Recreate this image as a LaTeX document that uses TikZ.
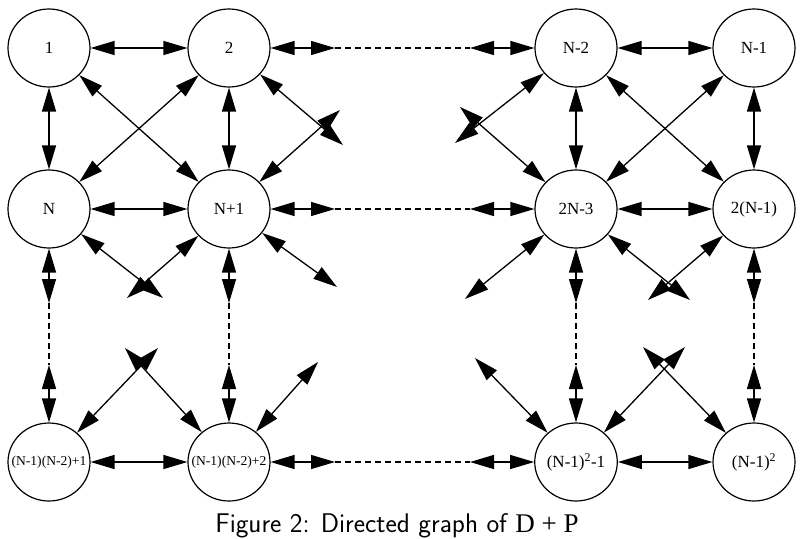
\documentclass[tikz,border=0pt]{standalone}
\usepackage{fontspec}
\setmainfont{Liberation Serif}
\usetikzlibrary{arrows.meta,shapes.geometric}
\newcommand\vlab[1]{\makebox[0pt]{#1}}
\begin{document}
\begin{tikzpicture}[x=1pt,y=-1pt,
  vtx/.style={draw, ellipse, minimum width=82pt, minimum height=78pt, inner sep=0pt, line width=1.2pt, font=\fontsize{17}{19}\selectfont},
  small/.style={font=\fontsize{13.6}{15}\selectfont},
  bi/.style={{Triangle[length=24pt,width=14pt]}-{Triangle[length=24pt,width=14pt]}, line width=1.3pt},
  dsh/.style={line width=1.3pt, dash pattern=on 6pt off 4pt}]
\fill[white] (0,0) rectangle (800,538);
\useasboundingbox (0,0) rectangle (800,538);
\clip (0,0) rectangle (800,538);
% nodes
\node[vtx] (a1) at (49,48) {1};
\node[vtx] (a2) at (229,48) {2};
\node[vtx] (a3) at (576,48) {N-2};
\node[vtx] (a4) at (754,48) {N-1};
\node[vtx] (b1) at (49,209) {N};
\node[vtx] (b2) at (229,209) {N+1};
\node[vtx] (b3) at (576,209) {2N-3};
\node[vtx] (b4) at (754,209) {2(N-1)};
\node[vtx,small] (c1) at (49,462) {\vlab{(N-1)(N-2)+1}};
\node[vtx,small] (c2) at (229,462) {\vlab{(N-1)(N-2)+2}};
\node[vtx] (c3) at (576,462) {(N-1)\textsuperscript{2}-1};
\node[vtx] (c4) at (754,462) {(N-1)\textsuperscript{2}};
% horizontal
\foreach \r/\y in {a/48,b/209,c/462}{
  \coordinate (\r s) at (335,\y);
  \coordinate (\r t) at (470,\y);
  \draw[bi] (\r1) -- (\r2);
  \draw[bi] (\r2) -- (\r s);
  \draw[dsh] (\r s) -- (\r t);
  \draw[bi] (\r t) -- (\r3);
  \draw[bi] (\r3) -- (\r4);
}
% vertical
\foreach \i/\x in {1/49,2/229,3/576,4/754}{
  \draw[bi] (a\i) -- (b\i);
  \coordinate (u\i) at (\x,303);
  \coordinate (v\i) at (\x,365);
  \draw[bi] (b\i) -- (u\i);
  \draw[dsh] (u\i) -- (v\i);
  \draw[bi] (v\i) -- (c\i);
}
% diagonals between nodes
\draw[bi] (a1) -- (b2);
\draw[bi] (a2) -- (b1);
\draw[bi] (a3) -- (b4);
\draw[bi] (a4) -- (b3);
% diagonal stubs
\coordinate (d1) at (343,145);
\coordinate (d2) at (340,110);
\coordinate (d3) at (455,143);
\coordinate (d4) at (460,107);
\coordinate (e1) at (163,298);
\coordinate (e2) at (127,298);
\coordinate (e3) at (337,287);
\coordinate (e4) at (465,299);
\coordinate (e5) at (690,300);
\coordinate (e6) at (648,300);
\coordinate (f1) at (158,348);
\coordinate (f2) at (125,348);
\coordinate (f3) at (318,362);
\coordinate (f4) at (475,358);
\coordinate (f5) at (685,347);
\coordinate (f6) at (643,347);
\draw[bi] (a2) -- (d1);
\draw[bi] (b2) -- (d2);
\draw[bi] (a3) -- (d3);
\draw[bi] (b3) -- (d4);
\draw[bi] (b1) -- (e1);
\draw[bi] (b2) -- (e2);
\draw[bi] (b2) -- (e3);
\draw[bi] (b3) -- (e4);
\draw[bi] (b3) -- (e5);
\draw[bi] (b4) -- (e6);
\draw[bi] (c1) -- (f1);
\draw[bi] (c2) -- (f2);
\draw[bi] (c2) -- (f3);
\draw[bi] (c3) -- (f4);
\draw[bi] (c3) -- (f5);
\draw[bi] (c4) -- (f6);
% caption
\node[anchor=base, font=\sffamily\fontsize{27}{30}\selectfont, inner sep=0pt] (cap) at (397,532) {Figure 2: Directed graph of {\rmfamily D + P}};
\end{tikzpicture}
\end{document}
